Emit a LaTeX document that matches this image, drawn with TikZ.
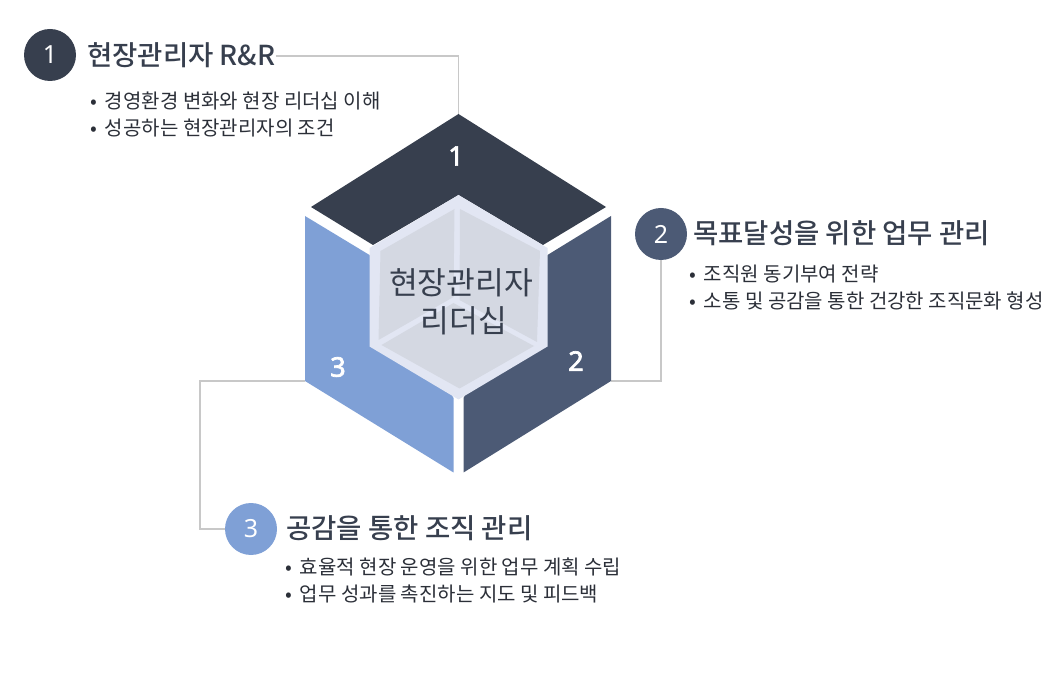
\documentclass[tikz,border=0pt]{standalone}
\usepackage{fontspec}
\setmainfont{Noto Sans CJK KR}
\newfontfamily\headfont{Noto Sans CJK KR Medium}
\newfontfamily\numfont{Noto Sans}
\definecolor{ink}{HTML}{373F4E}
\definecolor{slate}{HTML}{4C5A75}
\definecolor{sky}{HTML}{7FA0D6}
\definecolor{rim}{HTML}{E2E6F3}
\definecolor{pane}{HTML}{D4D8E2}
\definecolor{wire}{HTML}{C8C8C8}
\definecolor{bodytext}{HTML}{2B2F38}
\newcommand{\bul}{•\hspace{3.5pt} }
% digit set with a thin outline so that it reads as a medium weight
\newcommand{\heavydigit}[1]{\special{pdf:code 2 Tr 0.7 w}#1\special{pdf:code 0 Tr}}
\tikzset{
  badge/.style={circle,minimum size=52pt,inner sep=0pt,text=white,font=\numfont\fontsize{25}{25}\selectfont},
  headline/.style={anchor=west,inner sep=0pt,text=ink,font=\headfont\fontsize{27.5}{30}\selectfont},
  bullets/.style={anchor=north west,inner sep=0pt,text=bodytext,align=left,font=\fontsize{20}{27}\selectfont},
  facenum/.style={text=white,inner sep=0pt,font=\numfont\fontsize{27}{27}\selectfont},
  wireline/.style={draw=wire,line width=1.9pt},
}
\begin{document}
\begin{tikzpicture}[x=1pt,y=-1pt]
\useasboundingbox (0,0) rectangle (1050,700);

% anchor points of the cube faces
\coordinate (top) at (458.5,114);
\coordinate (rf) at (611,381);
\coordinate (lf) at (305,381);

% connectors run underneath the badges
\node[headline] (t1) at (87,55) {현장관리자 R\&R};
\node[badge,fill=slate] (b2) at (661,234) {2};
\coordinate (c1) at (458.5,56);
\coordinate (c2) at (661,381);
\coordinate (c3) at (200,381);
\coordinate (c4) at (200,529);
\coordinate (c5) at (228,529);
\draw[wireline] (t1.east |- c1) -- (c1) -- (top);
\draw[wireline] (b2.south) -- (c2) -- (rf);
\draw[wireline] (lf) -- (c3) -- (c4) -- (c5);

% cube faces
\fill[ink] (top) -- (606,207) -- (543,245) -- (458.5,195) -- (373,245) -- (311,207) -- cycle;
\fill[slate] (611,216) -- (rf) -- (463.5,472.5) -- (463.5,398) -- (547.5,255) -- cycle;
\fill[sky] (305,216) -- (lf) -- (453.5,472.5) -- (453.5,398) -- (369.5,255) -- cycle;

% centre hexagon with its three panes
\fill[rim] (458.5,195) -- (547.5,248) -- (547.5,346.5) -- (458.5,399.5) -- (369.5,346.5) -- (369.5,248) -- cycle;
\fill[pane] (454.5,209) -- (380.5,251) -- (378.5,340) -- (453.5,297) -- cycle;
\fill[pane] (460,209) -- (540,251) -- (537,342) -- (459.5,300) -- cycle;
\fill[pane] (453.5,303) -- (381.5,345) -- (459.5,388.5) -- (534,346) -- cycle;

\node[inner sep=0pt,align=center,text=ink,font=\fontsize{31.3}{38}\selectfont] (core) at (461,302) {현장관리자\\\hspace*{6pt}리더십};

\node[facenum] (n1) at (456,156) {\heavydigit{1}};
\node[facenum] (n2) at (576,361) {\heavydigit{2}};
\node[facenum] (n3) at (338,367) {\heavydigit{3}};

% numbered sections
\node[badge,fill=ink] (b1) at (50,55) {1};
\node[bullets] (l1) at (90,92) {\bul 경영환경 변화와 현장 리더십 이해\\\bul 성공하는 현장관리자의 조건};

\node[headline] (t2) at (693,233) {목표달성을 위한 업무 관리};
\node[bullets] (l2) at (689,265) {\bul 조직원 동기부여 전략\\\bul 소통 및 공감을 통한 건강한 조직문화 형성};

\node[badge,fill=sky] (b3) at (251,529) {3};
\node[headline] (t3) at (286,528) {공감을 통한 조직 관리};
\node[bullets] (l3) at (285,558) {\bul 효율적 현장 운영을 위한 업무 계획 수립\\\bul 업무 성과를 촉진하는 지도 및 피드백};
\end{tikzpicture}
\end{document}
